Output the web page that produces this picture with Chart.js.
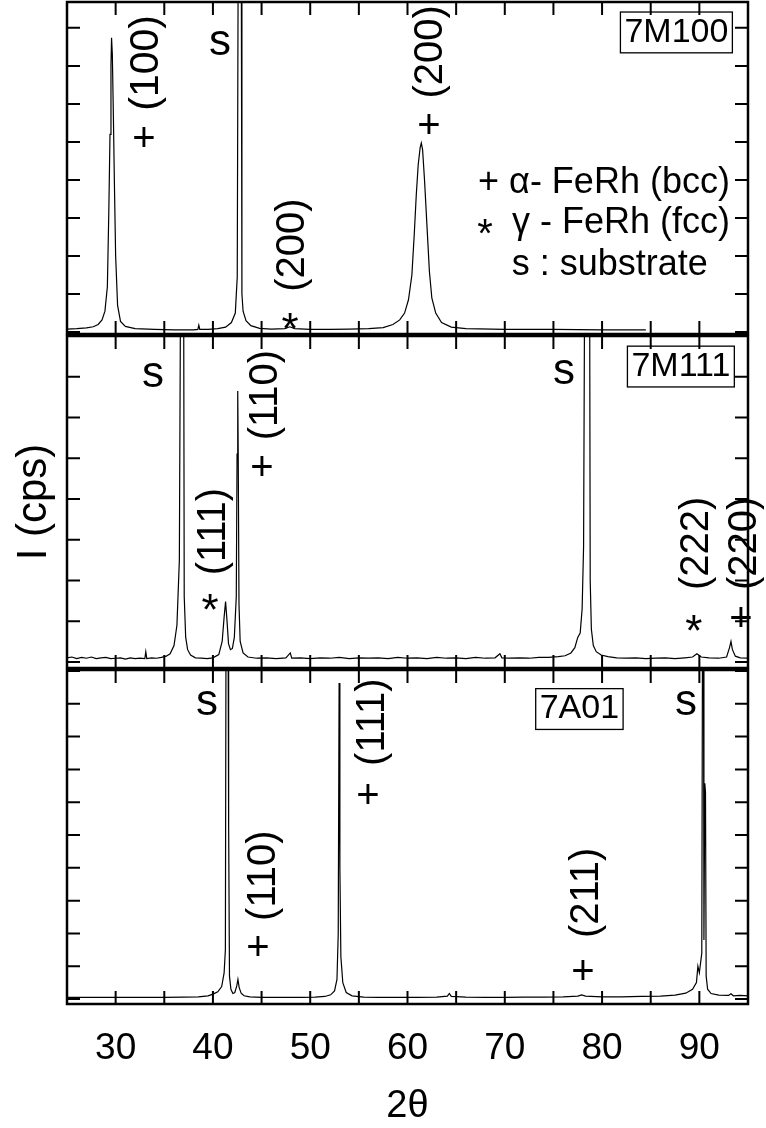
<!DOCTYPE html>
<html>
<head>
<meta charset="utf-8">
<script src="https://cdn.jsdelivr.net/npm/chart.js@4.4.1/dist/chart.umd.min.js"></script>
<style>
  body { margin: 0; background: #fff; }
  #wrap { position: relative; width: 766px; height: 1128px; }
  canvas { position: absolute; left: 0; }
</style>
</head>
<body>
<div id="wrap">
  <canvas id="p1" width="766" height="336" style="top:0px"></canvas>
  <canvas id="p2" width="766" height="336" style="top:334px"></canvas>
  <canvas id="p3" width="766" height="462" style="top:666px"></canvas>
</div>
<script>
// x axis (2theta) ticks
const xLabels = [30, 40, 50, 60, 70, 80, 90];
const xMinorTicks = [30, 35, 40, 45, 50, 55, 60, 65, 70, 75, 80, 85, 90];

// 7M100
const twoTheta1 = [25.0, 26.0, 27.0, 27.7, 28.2, 28.6, 28.9, 29.15, 29.3, 29.42, 29.52, 29.58, 29.66, 29.76, 29.88, 30.0, 30.2, 30.5, 31.0, 32.0,
  34.0, 36.0, 38.0, 38.45, 38.55, 38.65, 39.5, 40.5, 41.3, 41.9, 42.3, 42.5, 42.62, 42.9, 42.98, 43.1, 43.4, 43.9, 44.8, 46.0,
  47.4, 47.9, 48.4, 50.0, 52.0, 54.0, 56.0, 57.5, 58.5, 59.2, 59.7, 60.1, 60.45, 60.7, 60.9, 61.1, 61.3, 61.42, 61.55, 61.75,
  62.0, 62.25, 62.5, 62.9, 63.5, 64.5, 66.0, 70.0, 75.0, 80.0, 84.5];
const counts1 = [0.08, 0.09, 0.11, 0.14, 0.2, 0.32, 0.55, 1.2, 3.2, 5.2, 7.0, 7.74, 7.3, 5.8, 3.8, 2.0, 0.7, 0.28, 0.15, 0.09,
  0.07, 0.06, 0.06, 0.07, 0.18, 0.07, 0.07, 0.09, 0.13, 0.25, 0.5, 1.45, 12, 12, 1.0, 0.55, 0.3, 0.17, 0.1, 0.08,
  0.09, 0.14, 0.09, 0.07, 0.07, 0.08, 0.09, 0.12, 0.2, 0.32, 0.5, 0.85, 1.5, 2.6, 3.6, 4.4, 4.85, 4.97, 4.8, 4.0,
  2.8, 1.6, 0.9, 0.5, 0.25, 0.13, 0.09, 0.07, 0.07, 0.06, 0.06];
const yTicks1 = [0, 1, 2, 3, 4, 5, 6, 7, 8];

// 7M111
const twoTheta2 = [25.0, 25.5, 26.0, 26.5, 27.0, 27.5, 28.0, 28.5, 29.0, 29.5,
  30.0, 30.5, 31.0, 31.5, 32.0, 32.5, 33.0, 33.1, 33.2, 33.7,
  34.2, 34.7, 35.2, 35.6, 36.0, 36.3, 36.55, 36.72, 36.97, 37.05,
  37.2, 37.4, 37.7, 38.2, 38.8, 39.4, 40.0, 40.6, 40.95, 41.15,
  41.3, 41.45, 41.6, 41.8, 42.0, 42.2, 42.4, 42.48, 42.55, 42.6,
  42.68, 42.8, 43.1, 43.6, 44.5, 45.5, 46.5, 47.5, 47.95, 48.1,
  49, 50, 51, 52, 53, 54, 55, 56, 57, 58,
  59, 60, 61, 62, 63, 64, 65, 66, 67, 68,
  69.0, 69.5, 69.7, 70.5, 71.5, 72.5, 73.5, 74.5, 75.5, 76.2,
  76.8, 77.2, 77.5, 77.75, 77.95, 78.1, 78.25, 78.7, 78.78, 78.9,
  79.1, 79.4, 79.9, 80.6, 81.5, 82.5, 83.5, 84.5, 85.5, 86.5,
  87.5, 88.5, 89.3, 89.75, 90.2, 91.0, 92.0, 92.8, 93.1, 93.25,
  93.4, 93.7, 94.2, 95.0];
const counts2 = [0.1, 0.12, 0.08, 0.11, 0.09, 0.12, 0.08, 0.1, 0.11, 0.08,
  0.09, 0.1, 0.07, 0.1, 0.08, 0.09, 0.08, 0.25, 0.08, 0.1,
  0.09, 0.11, 0.14, 0.2, 0.4, 0.9, 2.5, 12, 12, 1.6,
  0.6, 0.3, 0.17, 0.1, 0.09, 0.08, 0.1, 0.18, 0.5, 1.1,
  1.48, 1.0, 0.45, 0.3, 0.33, 0.6, 1.6, 5.1, 6.65, 5.1,
  1.4, 0.5, 0.22, 0.12, 0.09, 0.1, 0.08, 0.1, 0.22, 0.09,
  0.1, 0.08, 0.1, 0.09, 0.11, 0.08, 0.1, 0.09, 0.1, 0.08,
  0.11, 0.09, 0.1, 0.08, 0.11, 0.09, 0.1, 0.08, 0.11, 0.09,
  0.1, 0.2, 0.1, 0.09, 0.1, 0.09, 0.11, 0.11, 0.13, 0.15,
  0.22, 0.35, 0.6, 0.71, 1.3, 2.83, 12, 12, 2.0, 0.8,
  0.4, 0.25, 0.17, 0.13, 0.1, 0.09, 0.1, 0.08, 0.09, 0.1,
  0.08, 0.1, 0.12, 0.2, 0.12, 0.1, 0.09, 0.12, 0.35, 0.5,
  0.3, 0.14, 0.1, 0.09];
const yTicks2 = [0, 1, 2, 3, 4, 5, 6, 7, 8];

// 7A01
const twoTheta3 = [25, 27, 29, 31, 33, 35, 37, 38.5, 39.5, 40.0,
  40.5, 40.9, 41.15, 41.28, 41.35, 41.55, 41.59, 41.64, 41.7, 41.85,
  42.05, 42.25, 42.45, 42.57, 42.7, 42.9, 43.2, 43.8, 45.0, 47.0,
  49.0, 50.5, 51.5, 52.1, 52.5, 52.75, 52.88, 52.97, 53.05, 53.15,
  53.35, 53.7, 54.3, 55.5, 57.0, 59.0, 61.0, 63.0, 64.1, 64.3,
  64.5, 66, 68, 70, 72, 74, 76, 77.5, 77.9, 78.3,
  80, 82, 84, 86, 87.5, 88.6, 89.3, 89.7, 89.85, 90.0,
  90.25, 90.33, 90.42, 90.47, 90.56, 90.63, 90.7, 90.85, 91.2, 92.0,
  93.0, 93.25, 93.5, 94.2, 95.0];
const counts3 = [0.05, 0.05, 0.05, 0.05, 0.05, 0.05, 0.06, 0.07, 0.1, 0.15,
  0.22, 0.38, 0.8, 1.5, 12, 12, 5.44, 5.3, 0.7, 0.3,
  0.17, 0.2, 0.4, 0.6, 0.35, 0.18, 0.1, 0.07, 0.05, 0.05,
  0.05, 0.06, 0.08, 0.13, 0.25, 0.6, 2.0, 9.63, 4.0, 1.3,
  0.5, 0.2, 0.1, 0.06, 0.05, 0.05, 0.05, 0.06, 0.09, 0.17,
  0.08, 0.06, 0.05, 0.05, 0.06, 0.06, 0.07, 0.09, 0.13, 0.09,
  0.07, 0.07, 0.08, 0.09, 0.12, 0.18, 0.3, 0.5, 1.0, 0.8,
  1.4, 12, 12, 1.8, 6.58, 6.3, 0.7, 0.3, 0.17, 0.12,
  0.11, 0.16, 0.1, 0.11, 0.1];
const yTicks3 = [0, 1, 2, 3, 4, 5, 6, 7, 8, 9, 10];

const FONT = '"Liberation Sans", Arial, Helvetica, sans-serif';

// peak labels, in data coordinates of each panel
const notes1 = [
  { t: '(100)', x: 33.22, y: 7.08, rot: true, size: 41 },
  { t: '+', x: 32.91, y: 5.05 },
  { t: 's', x: 40.72, y: 7.61, size: 44 },
  { t: '(200)', x: 48.23, y: 2.29, rot: true },
  { t: '*', x: 47.92, y: 0.37, star: true },
  { t: '(200)', x: 62.41, y: 7.37, rot: true },
  { t: '+', x: 62.2, y: 5.39 },
  { t: '+ α- FeRh (bcc)', x: 93.14, y: 3.92, size: 36, align: 'right' },
  { t: '*', x: 67.96, y: 2.84, size: 40, star: true },
  { t: 'γ - FeRh (fcc)', x: 93.14, y: 2.87, size: 36, align: 'right' },
  { t: 's : substrate', x: 80.8, y: 1.76, size: 36 },
  { t: '7M100', x: 87.64, y: 7.88, size: 34, box: true }
];
const notes2 = [
  { t: 's', x: 33.84, y: 7.04, size: 44 },
  { t: '(110)', x: 45.45, y: 6.55, rot: true },
  { t: '+', x: 45.04, y: 4.73 },
  { t: '(111)', x: 40.11, y: 3.2, rot: true },
  { t: '*', x: 39.7, y: 1.53, star: true },
  { t: 's', x: 76.08, y: 7.12, size: 44 },
  { t: '(222)', x: 89.75, y: 2.91, rot: true },
  { t: '*', x: 89.44, y: 1.01, star: true },
  { t: '(220)', x: 94.68, y: 2.91, rot: true },
  { t: '+', x: 94.27, y: 1.03 },
  { t: '7M111', x: 88.1, y: 7.25, size: 34, box: true }
];
const notes3 = [
  { t: 's', x: 39.39, y: 9.02, size: 44 },
  { t: '(110)', x: 45.25, y: 3.76, rot: true },
  { t: '+', x: 44.63, y: 1.53 },
  { t: '(111)', x: 56.45, y: 8.44, rot: true },
  { t: '+', x: 55.94, y: 6.15 },
  { t: '(211)', x: 78.44, y: 3.24, rot: true },
  { t: '+', x: 78.03, y: 0.8 },
  { t: 's', x: 88.62, y: 9.02, size: 44 },
  { t: '7A01', x: 77.67, y: 8.84, size: 34, box: true }
];

// frame, inward ticks and labels
const panelDecor = {
  id: 'panelDecor',
  afterDraw(chart, args, opts) {
    const { ctx, chartArea: a } = chart;
    const xs = chart.scales.x, ys = chart.scales.y;
    ctx.save();
    ctx.strokeStyle = '#000';
    ctx.lineWidth = 2;
    ctx.beginPath();
    xMinorTicks.forEach(v => {
      const px = xs.getPixelForValue(v);
      ctx.moveTo(px, a.top); ctx.lineTo(px, a.top + 13);
      ctx.moveTo(px, a.bottom); ctx.lineTo(px, a.bottom - 13);
    });
    opts.yTicks.forEach(v => {
      const py = ys.getPixelForValue(v);
      ctx.moveTo(a.left, py); ctx.lineTo(a.left + 13, py);
      ctx.moveTo(a.right, py); ctx.lineTo(a.right - 13, py);
    });
    ctx.stroke();
    ctx.lineWidth = 2.5;
    ctx.strokeRect(a.left, a.top, a.right - a.left, a.bottom - a.top);

    ctx.fillStyle = '#000';
    opts.notes.forEach(n => {
      const size = n.size || (n.star ? 44 : 40);
      const px = xs.getPixelForValue(n.x), py = ys.getPixelForValue(n.y);
      ctx.font = size + 'px ' + FONT;
      ctx.save();
      if (n.rot) {
        ctx.translate(px, py);
        ctx.rotate(-Math.PI / 2);
        ctx.textAlign = 'center';
        ctx.textBaseline = 'middle';
        ctx.fillText(n.t, 0, 0);
      } else if (n.star) {
        ctx.textAlign = 'center';
        ctx.textBaseline = 'alphabetic';
        ctx.fillText(n.t, px, py + 0.58 * size);
      } else {
        ctx.textAlign = n.align || 'center';
        ctx.textBaseline = 'middle';
        ctx.fillText(n.t, px, py);
        if (n.box) {
          const w = ctx.measureText(n.t).width;
          ctx.lineWidth = 1.3;
          ctx.strokeRect(px - w / 2 - 4, py - size * 0.6, w + 8, size * 1.2);
        }
      }
      ctx.restore();
    });
    ctx.restore();
  }
};

function makePanel(id, tt, counts, yMin, yMax, yTicks, notes, pad, bottomAxis, yTitle) {
  return new Chart(document.getElementById(id), {
    type: 'line',
    data: {
      datasets: [{
        data: tt.map((t, i) => ({ x: t, y: counts[i] })),
        borderColor: '#000',
        borderWidth: 1.2,
        pointRadius: 0,
        tension: 0,
        fill: false
      }]
    },
    options: {
      responsive: false,
      animation: false,
      devicePixelRatio: 1,
      layout: { padding: { top: pad.top, bottom: pad.bottom, left: 0, right: 18 } },
      plugins: {
        legend: { display: false },
        tooltip: { enabled: false },
        panelDecor: { yTicks: yTicks, notes: notes }
      },
      scales: {
        x: {
          type: 'linear',
          min: 25,
          max: 95,
          display: bottomAxis,
          afterBuildTicks: s => { s.ticks = xLabels.map(v => ({ value: v })); },
          ticks: { color: '#000', font: { size: 37, family: FONT }, padding: 23, maxRotation: 0, autoSkip: false },
          grid: { display: false, drawTicks: false },
          border: { display: false },
          title: { display: true, text: '2θ', color: '#000', font: { size: 38, family: FONT, lineHeight: 1 }, padding: { top: 0, bottom: 2 } },
          afterFit: s => { s.height = bottomAxis ? 124 : 0; }
        },
        y: {
          min: yMin,
          max: yMax,
          ticks: { display: false },
          grid: { display: false, drawTicks: false },
          border: { display: false },
          title: { display: !!yTitle, text: yTitle || '', color: '#000', font: { size: 42, family: FONT, lineHeight: 1 }, padding: { top: 13, bottom: 0 } },
          afterFit: s => { s.width = 67; }
        }
      }
    },
    plugins: [panelDecor]
  });
}

makePanel('p1', twoTheta1, counts1, -0.05, 8.68, yTicks1, notes1, { top: 2, bottom: 2 }, false, null);
makePanel('p2', twoTheta2, counts2, -0.15, 8.0, yTicks2, notes2, { top: 2, bottom: 2 }, false, 'I (cps)');
makePanel('p3', twoTheta3, counts3, -0.15, 10.03, yTicks3, notes3, { top: 4, bottom: 0 }, true, null);
</script>
</body>
</html>
